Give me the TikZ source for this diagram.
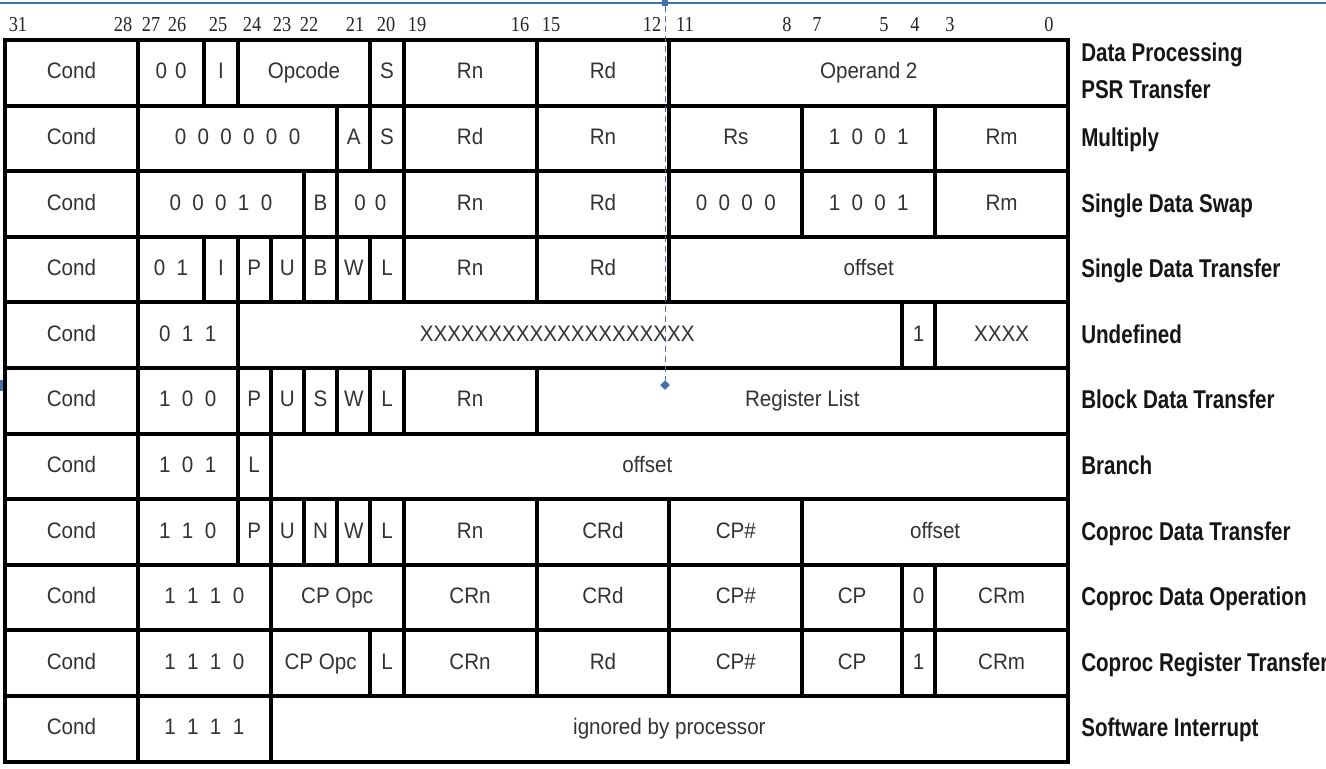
\documentclass[tikz,border=0pt]{standalone}
\usepackage{fontspec}
\setmainfont{Liberation Sans}
\newfontfamily\cellfont[FakeStretch=0.92]{Liberation Sans}
\newfontfamily\numfont[FakeStretch=0.86]{Liberation Serif}
\newfontfamily\lblfont[FakeStretch=0.8]{Liberation Sans Bold}
\usetikzlibrary{shapes.geometric}
\definecolor{celltext}{HTML}{333333}
\definecolor{labeltext}{HTML}{151515}
\definecolor{selblue}{HTML}{4470AC}
\newcommand\dg{\hspace{8.5pt}}
\newcommand\instrrow[2]{%
  \foreach \hi/\lo/\txt [count=\k] in {#2} {%
    \pgfmathsetmacro\xl{5+(31-\hi)*33.22}%
    \pgfmathsetmacro\xr{5+(32-\lo)*33.22}%
    \pgfmathsetmacro\yt{40+65.6*#1}%
    \pgfmathsetmacro\yb{\yt+65.6}%
    \draw[cellbox] (\xl,\yt) rectangle (\xr,\yb);
    \node[celltxt] (f#1-\k) at ({(\xl+\xr)/2},{(\yt+\yb)/2+6}) {\txt};
  }%
}
\begin{document}
\begin{tikzpicture}[x=0.75pt,y=-0.75pt,
  cellbox/.style={draw=black, line width=3pt, line join=miter},
  celltxt/.style={anchor=base, inner sep=0pt, text=celltext, font=\cellfont\fontsize{16.8}{19}\selectfont},
  bitnum/.style={anchor=base, inner sep=0pt, text=black!85, font=\numfont\fontsize{16}{18}\selectfont},
  fmtlabel/.style={anchor=base west, inner sep=0pt, text=labeltext, font=\lblfont\fontsize{19.3}{22}\selectfont},
  handle/.style={fill=selblue, draw=selblue, inner sep=0pt},
]
\useasboundingbox (0,0) rectangle (1326,768);
\fill[white] (0,0) rectangle (1326,768);

% bit numbers
\foreach \x/\n [count=\k] in {18/31,123/28,151/27,177/26,218/25,252/24,282/23,309/22,355/21,386/20,417/19,520/16,551/15,652/12,685/11,787/8,817/7,884/5,915/4,950/3,1049/0}
  \node[bitnum] (bit\k) at (\x,31) {\n};

% instruction rows
\instrrow{0}{31/28/Cond, 27/26/{0\hspace{6pt}0}, 25/25/I, 24/21/Opcode, 20/20/S, 19/16/Rn, 15/12/Rd, 11/0/Operand 2}
\instrrow{1}{31/28/Cond, 27/22/{0\dg0\dg0\dg0\dg0\dg0}, 21/21/A, 20/20/S, 19/16/Rd, 15/12/Rn, 11/8/Rs, 7/4/{1\dg0\dg0\dg1}, 3/0/Rm}
\instrrow{2}{31/28/Cond, 27/23/{0\dg0\dg0\dg1\dg0}, 22/22/B, 21/20/{0\hspace{6.8pt}0}, 19/16/Rn, 15/12/Rd, 11/8/{0\dg0\dg0\dg0}, 7/4/{1\dg0\dg0\dg1}, 3/0/Rm}
\instrrow{3}{31/28/Cond, 27/26/{0\dg1}, 25/25/I, 24/24/P, 23/23/U, 22/22/B, 21/21/W, 20/20/L, 19/16/Rn, 15/12/Rd, 11/0/offset}
\instrrow{4}{31/28/Cond, 27/25/{0\dg1\dg1}, 24/5/{XXXXXXXXXXXXXXXXXXXX\hspace*{18.8pt}}, 4/4/1, 3/0/XXXX}
\instrrow{5}{31/28/Cond, 27/25/{1\dg0\dg0}, 24/24/P, 23/23/U, 22/22/S, 21/21/W, 20/20/L, 19/16/Rn, 15/0/Register List}
\instrrow{6}{31/28/Cond, 27/25/{1\dg0\dg1}, 24/24/L, 23/0/{offset\hspace*{33pt}}}
\instrrow{7}{31/28/Cond, 27/25/{1\dg1\dg0}, 24/24/P, 23/23/U, 22/22/N, 21/21/W, 20/20/L, 19/16/Rn, 15/12/CRd, 11/8/CP\#, 7/0/offset}
\instrrow{8}{31/28/Cond, 27/24/{1\dg1\dg1\dg0}, 23/20/CP Opc, 19/16/CRn, 15/12/CRd, 11/8/CP\#, 7/5/CP, 4/4/0, 3/0/CRm}
\instrrow{9}{31/28/Cond, 27/24/{1\dg1\dg1\dg0}, 23/21/CP Opc, 20/20/L, 19/16/CRn, 15/12/Rd, 11/8/CP\#, 7/5/CP, 4/4/1, 3/0/CRm}
\instrrow{10}{31/28/Cond, 27/24/{1\dg1\dg1\dg1}, 23/0/{ignored by processor}}

% format labels
\node[fmtlabel] (lblDP) at (1081,61.7) {Data Processing};
\node[fmtlabel] (lblPSR) at (1081,98) {PSR Transfer};
\foreach \r/\t in {1/Multiply, 2/Single Data Swap, 3/Single Data Transfer, 4/Undefined, 5/Block Data Transfer, 6/Branch, 7/Coproc Data Transfer, 8/Coproc Data Operation, 9/Coproc Register Transfer, 10/Software Interrupt}
  \node[fmtlabel] (lbl\r) at (1081,{40+65.6*(\r+0.5)+8}) {\t};

% selection artefacts
\draw[selblue, line width=1.1pt] (0,3) -- (1326,3);
\node[handle, rectangle, minimum size=3.75pt] (htop) at (665,3) {};
\node[handle, diamond, minimum size=6.75pt] (hbot) at (665,385) {};
\draw[selblue, line width=0.75pt, dash pattern=on 5pt off 2.5pt] (htop) -- (hbot);
\fill[selblue] (0,380) rectangle (3,391);
\end{tikzpicture}
\end{document}
